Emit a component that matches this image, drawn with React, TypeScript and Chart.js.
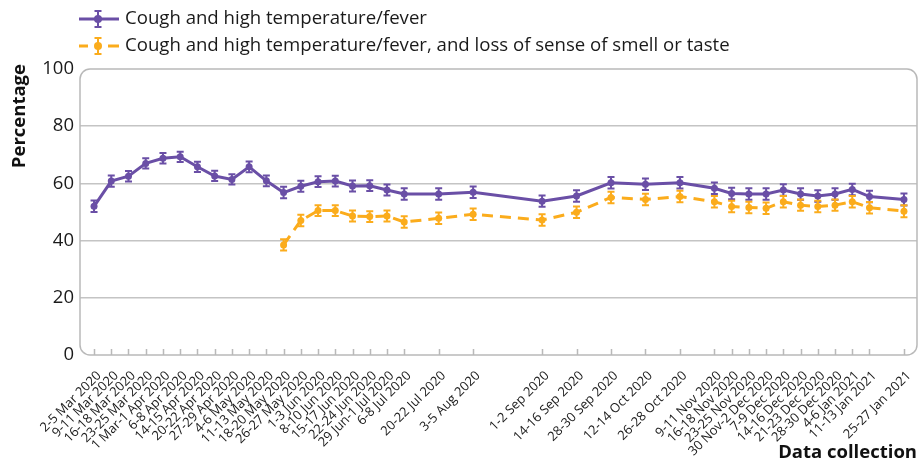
import React, { useEffect, useRef } from "react";
import { Chart, registerables } from "chart.js";

Chart.register(...registerables);

const collectionLabels = [
  "2-5 Mar 2020", "9-11 Mar 2020", "16-18 Mar 2020", "23-25 Mar 2020", "1 Mar-1 Apr 2020",
  "6-8 Apr 2020", "14-15 Apr 2020", "20-22 Apr 2020", "27-29 Apr 2020", "4-6 May 2020",
  "11-13 May 2020", "18-20 May 2020", "26-27 May 2020", "1-3 Jun 2020", "8-10 Jun 2020",
  "15-17 Jun 2020", "22-24 Jun 2020", "29 Jun-1 Jul 2020", "6-8 Jul 2020", "20-22 Jul 2020",
  "3-5 Aug 2020", "1-2 Sep 2020", "14-16 Sep 2020", "28-30 Sep 2020", "12-14 Oct 2020",
  "26-28 Oct 2020", "9-11 Nov 2020", "16-18 Nov 2020", "23-25 Nov 2020", "30 Nov-2 Dec 2020",
  "7-9 Dec 2020", "14-16 Dec 2020", "21-23 Dec 2020", "28-30 Dec 2020", "4-6 Jan 2021",
  "11-13 Jan 2021", "25-27 Jan 2021",
];

const collectionDates = [
  "2020-03-03", "2020-03-10", "2020-03-17", "2020-03-24", "2020-03-31",
  "2020-04-07", "2020-04-14", "2020-04-21", "2020-04-28", "2020-05-05",
  "2020-05-12", "2020-05-19", "2020-05-26", "2020-06-02", "2020-06-09",
  "2020-06-16", "2020-06-23", "2020-06-30", "2020-07-07", "2020-07-21",
  "2020-08-04", "2020-09-01", "2020-09-15", "2020-09-29", "2020-10-13",
  "2020-10-27", "2020-11-10", "2020-11-17", "2020-11-24", "2020-12-01",
  "2020-12-08", "2020-12-15", "2020-12-22", "2020-12-29", "2021-01-05",
  "2021-01-12", "2021-01-26",
];

const coughFever = [
  52, 60.8, 62.5, 67, 68.8, 69.3, 65.8, 62.6, 61.4, 65.8,
  60.9, 56.8, 59, 60.6, 60.8, 59.1, 59.2, 57.7, 56.3, 56.3,
  56.9, 53.8, 55.6, 60.2, 59.7, 60.2, 58.3, 56.5, 56.3, 56.3,
  57.7, 56.3, 55.6, 56.3, 57.9, 55.4, 54.4,
];
const coughFeverErr = [
  2, 2, 1.8, 1.8, 1.8, 1.8, 1.8, 1.8, 1.8, 1.9,
  1.9, 2, 1.9, 1.9, 1.9, 1.9, 1.9, 1.9, 2, 2,
  2, 2, 2, 2, 2, 2, 2, 2, 2, 2,
  2, 2, 2, 2, 2, 2, 2.1,
];

const coughFeverSmell = [
  null, null, null, null, null, null, null, null, null, null,
  null, 38.5, 47, 50.5, 50.5, 48.6, 48.4, 48.6, 46.5, 47.8,
  49.2, 47.2, 49.9, 55.1, 54.4, 55.4, 53.6, 51.9, 51.6, 51.3,
  53.6, 52.4, 51.9, 52.4, 53.6, 51.5, 50.3,
];
const coughFeverSmellErr = [
  0, 0, 0, 0, 0, 0, 0, 0, 0, 0,
  0, 2, 2, 1.9, 1.9, 1.9, 1.9, 1.9, 2, 2,
  2, 2, 2, 2, 2, 2, 2, 2, 2, 2,
  2, 2, 2, 2, 2, 2, 2.1,
];

const seriesNames = [
  "Cough and high temperature/fever",
  "Cough and high temperature/fever, and loss of sense of smell or taste",
];
const yTickValues = [0, 20, 40, 60, 80, 100];
const xTitle = "Data collection";
const yTitle = "Percentage";

const PURPLE = "#6a4fa6";
const ORANGE = "#fbac1c";
const FRAME = "#b9b9b9";
const FONT = "'Open Sans', 'Noto Sans', sans-serif";

const dayZero = Date.parse(collectionDates[0]);
const dayValues = collectionDates.map((d) => (Date.parse(d) - dayZero) / 86400000);

function drawErrorBar(ctx: CanvasRenderingContext2D, x: number, top: number, bot: number, color: string) {
  ctx.save();
  ctx.strokeStyle = color;
  ctx.lineWidth = 2;
  ctx.setLineDash([]);
  ctx.beginPath();
  ctx.moveTo(x, top);
  ctx.lineTo(x, bot);
  ctx.moveTo(x - 3.5, top);
  ctx.lineTo(x + 3.5, top);
  ctx.moveTo(x - 3.5, bot);
  ctx.lineTo(x + 3.5, bot);
  ctx.stroke();
  ctx.restore();
}

const framePlugin = {
  id: "frame",
  beforeDatasetsDraw(chart: any) {
    const { ctx, chartArea, scales } = chart;
    const { left, top, right, bottom } = chartArea;
    ctx.save();
    ctx.strokeStyle = FRAME;
    ctx.lineWidth = 1.5;
    ctx.beginPath();
    (ctx as any).roundRect(left, top, right - left, bottom - top, 10);
    ctx.stroke();
    ctx.beginPath();
    dayValues.forEach((v) => {
      const px = Math.round(scales.x.getPixelForValue(v)) + 0.5;
      ctx.moveTo(px, bottom);
      ctx.lineTo(px, bottom - 6);
    });
    ctx.stroke();
    ctx.restore();
    // y-axis title
    ctx.save();
    ctx.fillStyle = "#111";
    ctx.font = `bold 18.5px ${FONT}`;
    ctx.translate(19.5, 64);
    ctx.rotate(-Math.PI / 2);
    ctx.textAlign = "right";
    ctx.textBaseline = "middle";
    ctx.fillText(yTitle, 0, 0);
    ctx.restore();
  },
};

const errorBarPlugin = {
  id: "errorBars",
  afterDatasetsDraw(chart: any) {
    const { ctx, scales } = chart;
    chart.data.datasets.forEach((ds: any) => {
      ds.data.forEach((p: any, j: number) => {
        if (p.y == null) return;
        const e = ds.errors[j];
        const px = scales.x.getPixelForValue(p.x);
        drawErrorBar(ctx, px, scales.y.getPixelForValue(p.y + e), scales.y.getPixelForValue(p.y - e), ds.borderColor);
      });
    });
  },
};

const legendPlugin = {
  id: "customLegend",
  afterDraw(chart: any) {
    const { ctx } = chart;
    const items = [
      { text: seriesNames[0], color: PURPLE, dashed: false, y: 19 },
      { text: seriesNames[1], color: ORANGE, dashed: true, y: 46 },
    ];
    items.forEach((it) => {
      ctx.save();
      ctx.strokeStyle = it.color;
      ctx.lineWidth = 3;
      ctx.beginPath();
      if (it.dashed) {
        ctx.moveTo(79, it.y);
        ctx.lineTo(88, it.y);
        ctx.moveTo(108, it.y);
        ctx.lineTo(119, it.y);
      } else {
        ctx.moveTo(79, it.y);
        ctx.lineTo(119, it.y);
      }
      ctx.stroke();
      ctx.restore();
      drawErrorBar(ctx, 98, it.y - 8, it.y + 8, it.color);
      ctx.save();
      ctx.fillStyle = it.color;
      ctx.beginPath();
      ctx.arc(98, it.y, 4, 0, Math.PI * 2);
      ctx.fill();
      ctx.fillStyle = "#1a1a1a";
      ctx.font = `18.6px ${FONT}`;
      ctx.textBaseline = "middle";
      ctx.textAlign = "left";
      ctx.fillText(it.text, 125, it.y);
      ctx.restore();
    });
  },
};

export default function App() {
  const canvasRef = useRef<HTMLCanvasElement | null>(null);

  useEffect(() => {
    if (!canvasRef.current) return;
    const chart = new Chart(canvasRef.current, {
      type: "line",
      data: {
        datasets: [
          {
            label: seriesNames[0],
            data: coughFever.map((v, i) => ({ x: dayValues[i], y: v })),
            errors: coughFeverErr,
            borderColor: PURPLE,
            backgroundColor: PURPLE,
            borderWidth: 3,
            pointRadius: 3.5,
            pointBorderWidth: 0,
            tension: 0,
          } as any,
          {
            label: seriesNames[1],
            data: coughFeverSmell.map((v, i) => ({ x: dayValues[i], y: v })),
            errors: coughFeverSmellErr,
            borderColor: ORANGE,
            backgroundColor: ORANGE,
            borderWidth: 3,
            borderDash: [11, 7],
            pointRadius: 3.5,
            pointBorderWidth: 0,
            spanGaps: false,
            tension: 0,
          } as any,
        ],
      },
      options: {
        animation: false,
        responsive: false,
        layout: { padding: { top: 69, right: 3, left: 0, bottom: 0 } },
        plugins: {
          legend: { display: false },
          tooltip: { enabled: false },
        },
        scales: {
          x: {
            type: "linear",
            min: -5.7,
            max: 334.3,
            afterFit: (s: any) => {
              s.height = 109;
            },
            afterBuildTicks: (s: any) => {
              s.ticks = dayValues.map((v) => ({ value: v }));
            },
            grid: { display: false },
            border: { display: false },
            ticks: {
              autoSkip: false,
              minRotation: 45,
              maxRotation: 45,
              padding: 5,
              labelOffset: 5,
              color: "#1a1a1a",
              font: { family: FONT, size: 13 },
              callback: (_v: any, i: number) => collectionLabels[i],
            },
            title: {
              display: true,
              text: xTitle,
              align: "end",
              color: "#111",
              padding: { top: 0, bottom: 0 },
              font: { family: FONT, size: 18.5, weight: "bold" },
            },
          },
          y: {
            min: 0,
            max: 100,
            afterFit: (s: any) => {
              s.width = 80;
            },
            afterBuildTicks: (s: any) => {
              s.ticks = yTickValues.map((v) => ({ value: v }));
            },
            grid: {
              color: (c: any) => (c.tick && (c.tick.value === 0 || c.tick.value === 100) ? "rgba(0,0,0,0)" : "#c4c4c4"),
              lineWidth: 1.5,
              drawTicks: false,
            },
            border: { display: false },
            ticks: {
              padding: 6,
              color: "#1a1a1a",
              font: { family: FONT, size: 18.5 },
            },
            title: { display: false },
          },
        },
      } as any,
      plugins: [framePlugin, errorBarPlugin, legendPlugin],
    });
    return () => chart.destroy();
  }, []);

  return (
    <div style={{ position: "fixed", left: 0, top: 0, width: 921, height: 464, background: "#fff" }}>
      <canvas ref={canvasRef} width={921} height={464} />
    </div>
  );
}
